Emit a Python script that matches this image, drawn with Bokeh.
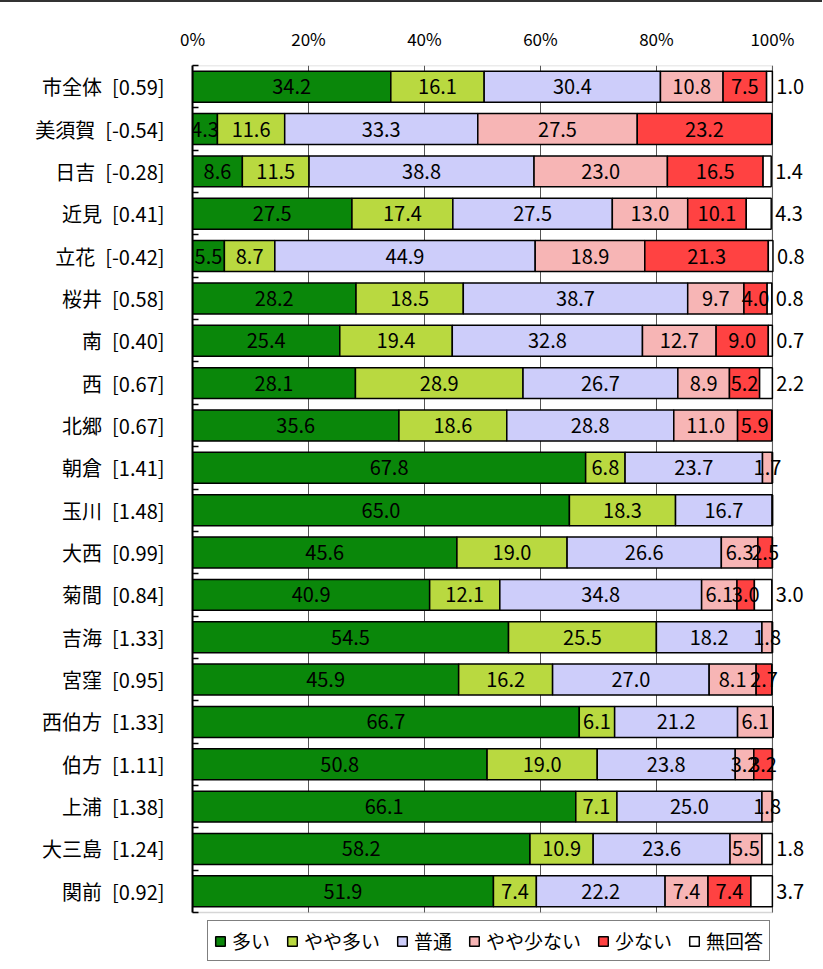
from bokeh.plotting import figure
from bokeh.models import (ColumnDataSource, Range1d, FixedTicker, Legend,
                          LegendItem, BoxAnnotation)
from bokeh.core.properties import value
from bokeh.embed import file_html
from bokeh.resources import INLINE

areas = ["市全体", "美須賀", "日吉", "近見", "立花", "桜井", "南", "西", "北郷", "朝倉",
         "玉川", "大西", "菊間", "吉海", "宮窪", "西伯方", "伯方", "上浦", "大三島", "関前"]
scores = ["0.59", "-0.54", "-0.28", "0.41", "-0.42", "0.58", "0.40", "0.67", "0.67", "1.41",
          "1.48", "0.99", "0.84", "1.33", "0.95", "1.33", "1.11", "1.38", "1.24", "0.92"]

many = [34.2, 4.3, 8.6, 27.5, 5.5, 28.2, 25.4, 28.1, 35.6, 67.8,
        65.0, 45.6, 40.9, 54.5, 45.9, 66.7, 50.8, 66.1, 58.2, 51.9]
some_many = [16.1, 11.6, 11.5, 17.4, 8.7, 18.5, 19.4, 28.9, 18.6, 6.8,
             18.3, 19.0, 12.1, 25.5, 16.2, 6.1, 19.0, 7.1, 10.9, 7.4]
normal = [30.4, 33.3, 38.8, 27.5, 44.9, 38.7, 32.8, 26.7, 28.8, 23.7,
          16.7, 26.6, 34.8, 18.2, 27.0, 21.2, 23.8, 25.0, 23.6, 22.2]
some_few = [10.8, 27.5, 23.0, 13.0, 18.9, 9.7, 12.7, 8.9, 11.0, 1.7,
            0.0, 6.3, 6.1, 1.8, 8.1, 6.1, 3.2, 1.8, 5.5, 7.4]
few = [7.5, 23.2, 16.5, 10.1, 21.3, 4.0, 9.0, 5.2, 5.9, 0.0,
       0.0, 2.5, 3.0, 0.0, 2.7, 0.0, 3.2, 0.0, 0.0, 7.4]
no_answer = [1.0, 0.0, 1.4, 4.3, 0.8, 0.8, 0.7, 2.2, 0.0, 0.0,
             0.0, 0.0, 3.0, 0.0, 0.0, 0.0, 0.0, 0.0, 1.8, 3.7]

series_names = ["多い", "やや多い", "普通", "やや少ない", "少ない", "無回答"]
series_values = [many, some_many, normal, some_few, few, no_answer]
colors = ["#0A870A", "#B9D940", "#CDCDFA", "#F7B5B5", "#FF4242", "#FFFFFF"]

x_ticks = [0, 20, 40, 60, 80, 100]
x_tick_labels = ["0%", "20%", "40%", "60%", "80%", "100%"]

FONT = "Noto Sans CJK JP"

n = len(areas)
labels = [f"{a}\u2002[{s}]" for a, s in zip(areas, scores)]
ypos = [n - 1 - i for i in range(n)]          # first row at the top
row_edges = [y - 0.5 for y in ypos] + [n - 0.5]
keys = ["s%d" % i for i in range(len(series_names))]
data = {"y": ypos}
for k, vals in zip(keys, series_values):
    data[k] = vals
source = ColumnDataSource(data)

# plot box: 0% at x=192, 100% at x=772; rows 42.35px apart; frame extended right
# (outside labels) and down (legend)
p = figure(width=822, height=966, output_backend="svg", toolbar_location=None,
           y_range=Range1d(-1.775, n - 0.5), x_range=Range1d(0, 108.3),
           x_axis_location="above",
           min_border_left=192, min_border_right=2, min_border_top=63, min_border_bottom=2,
           styles={"border-top": "2px solid #333333"})

renderers = p.hbar_stack(keys, y="y", height=0.73, source=source, fill_color=colors,
                         line_color="black", line_width=1.5)

# value labels
cx, cy, ct = [], [], []
ox, oy, ot = [], [], []
for i in range(n):
    left = 0.0
    for j, vals in enumerate(series_values):
        v = vals[i]
        if v > 0:
            if j == len(series_values) - 1:
                ox.append(left + v)
                oy.append(ypos[i])
                ot.append(f"{v:.1f}")
            else:
                cx.append(left + v / 2)
                cy.append(ypos[i])
                ct.append(f"{v:.1f}")
        left += v

p.text(x=cx, y=cy, text=ct, text_align="center", text_baseline="middle",
       text_font=value(FONT), text_font_size="20px", text_color="black")
p.text(x=ox, y=oy, text=ot, text_align="left", text_baseline="middle", x_offset=4,
       text_font=value(FONT), text_font_size="20px", text_color="black")

# plot-area outline from 0% to 100%
p.add_layout(BoxAnnotation(left=0, right=100, bottom=-0.5, fill_alpha=0,
                           line_color="#777777", line_width=1.5, level="underlay"))

# axes
p.xaxis.ticker = FixedTicker(ticks=x_ticks)
p.xaxis.major_label_overrides = {t: l for t, l in zip(x_ticks, x_tick_labels)}
p.xaxis.major_label_text_font = FONT
p.xaxis.major_label_text_font_size = "17px"
p.xaxis.major_label_text_color = "black"
p.xaxis.major_label_standoff = 15
p.xaxis.major_tick_in = 0
p.xaxis.major_tick_out = 0
p.xaxis.minor_tick_in = 0
p.xaxis.minor_tick_out = 0
p.xaxis.axis_line_color = None

p.yaxis.ticker = FixedTicker(ticks=ypos, minor_ticks=row_edges)
p.yaxis.major_label_overrides = {y: l for y, l in zip(ypos, labels)}
p.yaxis.major_label_text_font = FONT
p.yaxis.major_label_text_font_size = "20px"
p.yaxis.major_label_text_color = "black"
p.yaxis.major_label_standoff = 28
p.yaxis.major_tick_in = 0
p.yaxis.major_tick_out = 0
p.yaxis.minor_tick_in = 6
p.yaxis.minor_tick_out = 0
p.yaxis.minor_tick_line_color = "black"
p.yaxis.minor_tick_line_width = 1.5
p.yaxis.axis_line_color = "black"
p.yaxis.axis_line_width = 2
p.yaxis.bounds = (-0.5, n - 0.5)

p.xgrid.ticker = FixedTicker(ticks=x_ticks)
p.xgrid.grid_line_color = "#555555"
p.xgrid.grid_line_width = 1
p.xgrid.cross_bounds = (-0.5, n - 0.5)
p.ygrid.grid_line_color = None
p.outline_line_color = None

legend = Legend(items=[LegendItem(label=nm, renderers=[r]) for nm, r in zip(series_names, renderers)],
                orientation="horizontal", location=(15, 5))
legend.label_text_font = FONT
legend.label_text_font_size = "19px"
legend.label_text_color = "black"
legend.glyph_width = 12
legend.glyph_height = 12
legend.label_standoff = 6
legend.spacing = 16
legend.padding = 6
legend.margin = 0
legend.border_line_color = "black"
legend.border_line_width = 1
p.add_layout(legend, "center")

open("out.html", "w").write(file_html(p, INLINE))
